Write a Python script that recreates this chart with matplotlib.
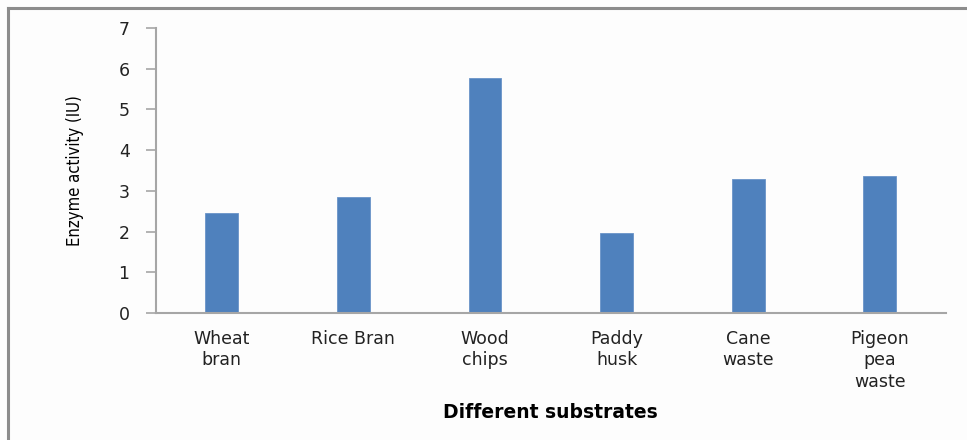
import numpy as np
import matplotlib
matplotlib.use("Agg")
import matplotlib.pyplot as plt
from matplotlib.lines import Line2D

# substrates and measured activity
substrates = ["Wheat\nbran", "Rice Bran", "Wood\nchips", "Paddy\nhusk", "Cane\nwaste", "Pigeon\npea\nwaste"]
activity = [2.46, 2.84, 5.78, 1.96, 3.28, 3.36]
yticks = [0, 1, 2, 3, 4, 5, 6, 7]

fig = plt.figure(figsize=(9.67, 4.40), dpi=100)
fig.patch.set_facecolor("#fdfdfd")
ax = fig.add_axes([0.1613, 0.2886, 0.8167, 0.6477])
ax.set_facecolor("#fdfdfd")

x = np.arange(len(substrates))
ax.bar(x, activity, width=0.25, color="#4f81bd", edgecolor="#6a93c8", linewidth=0.6)

ax.set_xlim(-0.5, len(substrates) - 0.5)
ax.set_ylim(0, 7)
ax.set_yticks(yticks)
ax.set_xticks(x)
ax.set_xticklabels(substrates, linespacing=1.25)

for s in ["top", "right"]:
    ax.spines[s].set_visible(False)
for s in ["left", "bottom"]:
    ax.spines[s].set_color("#a6a6a6")
    ax.spines[s].set_linewidth(1.5)

ax.tick_params(axis="y", length=7, width=1.2, color="#a6a6a6", pad=12,
               labelsize=12.5, labelcolor="#222222")
ax.tick_params(axis="x", length=0, pad=12, labelsize=12.5, labelcolor="#222222")

ax.set_ylabel("Enzyme activity (IU)", fontsize=12, fontstretch="condensed",
              family="Liberation Sans Narrow", labelpad=25)
ax.set_xlabel("Different substrates", fontsize=13.5, fontweight="bold", labelpad=9)

# chart frame on left and top edges
fig.add_artist(Line2D([0.0085, 0.0085], [0, 0.981], color="#8c8c8c", lw=2.2,
                      transform=fig.transFigure))
fig.add_artist(Line2D([0.0085, 1.0], [0.981, 0.981], color="#8c8c8c", lw=2.2,
                      transform=fig.transFigure))

fig.savefig("out.png", dpi=100, facecolor=fig.get_facecolor())
